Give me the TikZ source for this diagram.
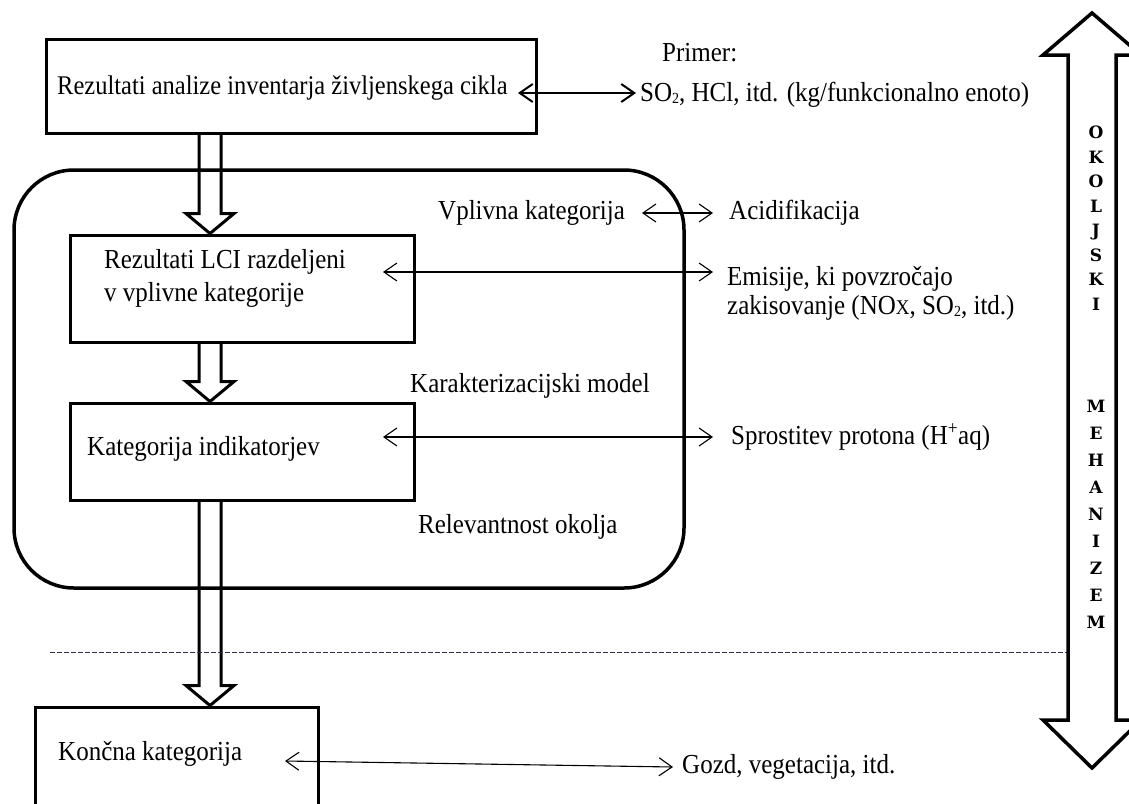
\documentclass[tikz,border=0pt]{standalone}
\usepackage{fontspec}
\setmainfont{Liberation Serif}
\newfontfamily\mechfont{DejaVu Serif}
\usepackage{graphicx}
\usetikzlibrary{arrows.meta,calc}

% slightly taller lettering
\newcommand{\vstr}[1]{\scalebox{1}[1.1]{#1}}
% hollow block arrow from a source anchor down to a target anchor
\newcommand{\hollowarrow}[2]{%
  \draw[blockarrow] let \p1=(#1), \p2=(#2) in
    (\x2-11pt,\y1) -- (\x2-11pt,\y2+20pt) -- (\x2-24pt,\y2+20pt) -- (\x2,\y2)
    -- (\x2+24pt,\y2+20pt) -- (\x2+11pt,\y2+20pt) -- (\x2+11pt,\y1);}

\definecolor{divcol}{RGB}{45,45,80}

\begin{document}
\begin{tikzpicture}[x=1pt,y=-1pt,
  box/.style={draw, line width=3pt, inner sep=0pt},
  lbl/.style={anchor=base west, inner sep=0pt, font=\fontsize{25}{30}\selectfont},
  blockarrow/.style={line width=3pt, line join=miter},
  bigarrow/.style={line width=3.5pt, line join=miter},
  link/.style={line width=1.1pt,
    {Straight Barb[length=13pt,width=18pt]}-{Straight Barb[length=13pt,width=18pt]}},
  divider/.style={line width=1pt, dash pattern=on 5pt off 2pt, draw=divcol},
  letters/.style={anchor=north, inner sep=0pt, align=center,
    font=\mechfont\bfseries\fontsize{17}{27}\selectfont}
]
\useasboundingbox (0,0) rectangle (1129,803);
\clip (0,0) rectangle (1129,803);

% boxes
\node (inv) [box, minimum width=490pt, minimum height=94pt] at (291,86) {};
\node (env) [box, line width=3.5pt, rounded corners=60pt,
             minimum width=670pt, minimum height=418pt] at (349,379) {};
\node (lci) [box, minimum width=344pt, minimum height=107pt] at (242,288.5) {};
\node (ind) [box, minimum width=344pt, minimum height=97pt] at (242,451.5) {};
\node (fin) [box, minimum width=283pt, minimum height=103pt] at (176.5,758.5) {};

% texts
\node (inv-t) [lbl, font=\fontsize{24.5}{30}\selectfont] at (57,94) {\vstr{Rezultati analize inventarja življenskega cikla}};
\node (primer) [lbl] at (662,61) {\vstr{Primer:}};
\node (so2) [lbl] at (640,101) {\vstr{SO{\fontsize{14}{14}\selectfont\raisebox{-2pt}{2}}, HCl, itd. (kg/funkcionalno enoto)}};
\node (vpl) [lbl] at (438,219) {\vstr{Vplivna kategorija}};
\node (acid) [lbl] at (729,219) {\vstr{Acidifikacija}};
\node (lci-t) [lbl] at (104,268) {\vstr{\begin{tabular}[t]{@{}l@{}}Rezultati LCI razdeljeni\\v vplivne kategorije\end{tabular}}};
\node (emis) [lbl] at (727,285) {\vstr{\begin{tabular}[t]{@{}l@{}}Emisije, ki povzročajo\\[-3pt]zakisovanje (NO{\fontsize{19}{20}\selectfont X}, SO{\fontsize{14}{14}\selectfont\raisebox{-2pt}{2}}, itd.)\end{tabular}}};
\node (karak) [lbl] at (410,392) {\vstr{Karakterizacijski model}};
\node (ind-t) [lbl] at (87,455) {\vstr{Kategorija indikatorjev}};
\node (sprost) [lbl] at (731,444) {\vstr{Sprostitev protona (H\textsuperscript{+}aq)}};
\node (relev) [lbl] at (418,533) {\vstr{Relevantnost okolja}};
\node (fin-t) [lbl] at (58,760) {\vstr{Končna kategorija}};
\node (gozd) [lbl] at (682,773) {\vstr{Gozd, vegetacija, itd.}};

% hollow flow arrows
\coordinate (ax) at (210,0);
\hollowarrow{inv.south -| ax}{lci.north -| ax}
\hollowarrow{lci.south -| ax}{ind.north -| ax}
\hollowarrow{ind.south -| ax}{fin.north -| ax}

% two-headed links to the examples
\coordinate (l1a) at (518,93);  \coordinate (l1b) at (636,93);
\coordinate (l2a) at (642,213); \coordinate (l2b) at (713,213);
\coordinate (l3a) at (383,272); \coordinate (l3b) at (713,272);
\coordinate (l4a) at (383,437); \coordinate (l4b) at (713,437);
\coordinate (l5a) at (285,761); \coordinate (l5b) at (673,767);
\draw[link, line width=2pt] (l1a) -- (l1b);
\draw[link] (l2a) -- (l2b);
\draw[link] (l3a) -- (l3b);
\draw[link] (l4a) -- (l4b);
\draw[link] (l5a) -- (l5b);

% midpoint / endpoint divider
\coordinate (dashL) at (50,652);
\coordinate (dashR) at (1068,652);
\draw[divider] (dashL) -- (dashR);

% environmental mechanism double arrow
\draw[bigarrow] (1068,55) -- (1043,55) -- (1092,13) -- (1141,55) -- (1116,55)
  -- (1116,720) -- (1141,720) -- (1092,768) -- (1043,720) -- (1068,720) -- cycle;
\node (mech) [letters] at (1096,125.8)
  {O\\[-2.5pt]K\\[-2.5pt]O\\[-2.5pt]L\\[-2.5pt]J\\[-2.5pt]S\\[-2.5pt]K\\[-2.5pt]I\\[75.5pt]M\\E\\H\\A\\N\\I\\Z\\E\\M};
\end{tikzpicture}
\end{document}
